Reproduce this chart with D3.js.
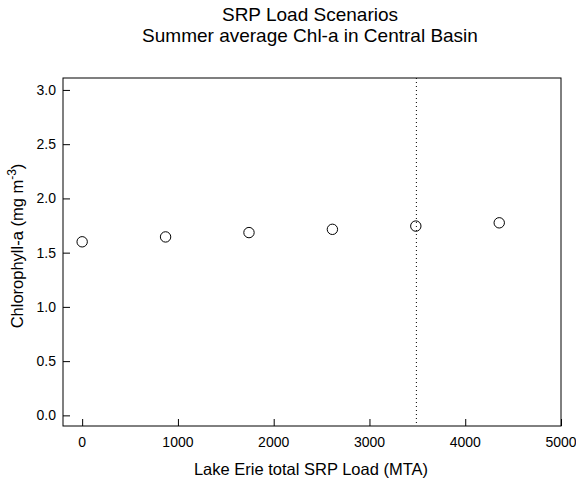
<!DOCTYPE html>
<html>
<head>
<meta charset="utf-8">
<script src="https://cdn.jsdelivr.net/npm/d3@7"></script>
<style>
  html, body { margin: 0; padding: 0; background: #fff; }
  svg { display: block; font-family: "Liberation Sans", Arial, sans-serif; }
</style>
</head>
<body>
<svg id="chart" width="576" height="483"></svg>
<script>
const srpLoad = [0, 871, 1742, 2613, 3484, 4355];
const chlA = [1.60, 1.645, 1.685, 1.715, 1.745, 1.775];
const refLoad = 3490;
const xTicks = [0, 1000, 2000, 3000, 4000, 5000];
const yTicks = [0.0, 0.5, 1.0, 1.5, 2.0, 2.5, 3.0];
const titleLines = ["SRP Load Scenarios", "Summer average Chl-a in Central Basin"];
const xLabel = "Lake Erie total SRP Load (MTA)";

const svg = d3.select("#chart");
const L = 63, R = 561, T = 78, B = 426;

const x = d3.scaleLinear().domain([-200, 5000]).range([L, R]);
const y = d3.scaleLinear().domain([-0.098, 3.11]).range([B, T]);

// Frame
svg.append("rect").attr("x", L).attr("y", T).attr("width", R - L).attr("height", B - T)
  .attr("fill", "none").attr("stroke", "#000").attr("stroke-width", 1);

// X axis (ticks inward)
const xAxis = d3.axisTop(x).tickValues(xTicks).tickSize(7).tickFormat("");
const gx = svg.append("g").attr("transform", `translate(0,${B})`).call(xAxis);
gx.select(".domain").remove();
gx.selectAll("line").attr("stroke", "#000");
svg.append("g").selectAll("text").data(xTicks).join("text")
  .attr("x", d => x(d)).attr("y", 447)
  .attr("text-anchor", "middle").attr("font-size", 14).attr("fill", "#000")
  .text(d => d3.format("d")(d));

// Y axis (ticks inward)
const yAxis = d3.axisRight(y).tickValues(yTicks).tickSize(7).tickFormat("");
const gy = svg.append("g").attr("transform", `translate(${L},0)`).call(yAxis);
gy.select(".domain").remove();
gy.selectAll("line").attr("stroke", "#000");
svg.append("g").selectAll("text").data(yTicks).join("text")
  .attr("x", 56).attr("y", d => y(d)).attr("dy", "0.35em")
  .attr("text-anchor", "end").attr("font-size", 14).attr("fill", "#000")
  .text(d => d3.format(".1f")(d));

// Reference dotted line
svg.append("line")
  .attr("x1", x(refLoad)).attr("x2", x(refLoad))
  .attr("y1", T).attr("y2", B)
  .attr("stroke", "#000").attr("stroke-width", 1).attr("stroke-dasharray", "1,3");

// Points
svg.append("g").selectAll("circle").data(srpLoad).join("circle")
  .attr("cx", d => x(d)).attr("cy", (d, i) => y(chlA[i])).attr("r", 5.2)
  .attr("fill", "none").attr("stroke", "#000").attr("stroke-width", 1);

// Titles
svg.append("g").selectAll("text").data(titleLines).join("text")
  .attr("x", 310).attr("y", (d, i) => 21 + i * 21)
  .attr("text-anchor", "middle").attr("font-size", 19).attr("fill", "#000")
  .text(d => d);

// X label
svg.append("text").attr("x", 311).attr("y", 475)
  .attr("text-anchor", "middle").attr("font-size", 16.5).attr("fill", "#000")
  .text(xLabel);

// Y label with superscript
const yl = svg.append("text")
  .attr("transform", `translate(23,246) rotate(-90)`)
  .attr("text-anchor", "middle").attr("font-size", 16.5).attr("fill", "#000");
yl.append("tspan").text("Chlorophyll-a (mg m");
yl.append("tspan").attr("font-size", 12).attr("dy", -7).text("-3");
yl.append("tspan").attr("dy", 7).text(")");
</script>
</body>
</html>
